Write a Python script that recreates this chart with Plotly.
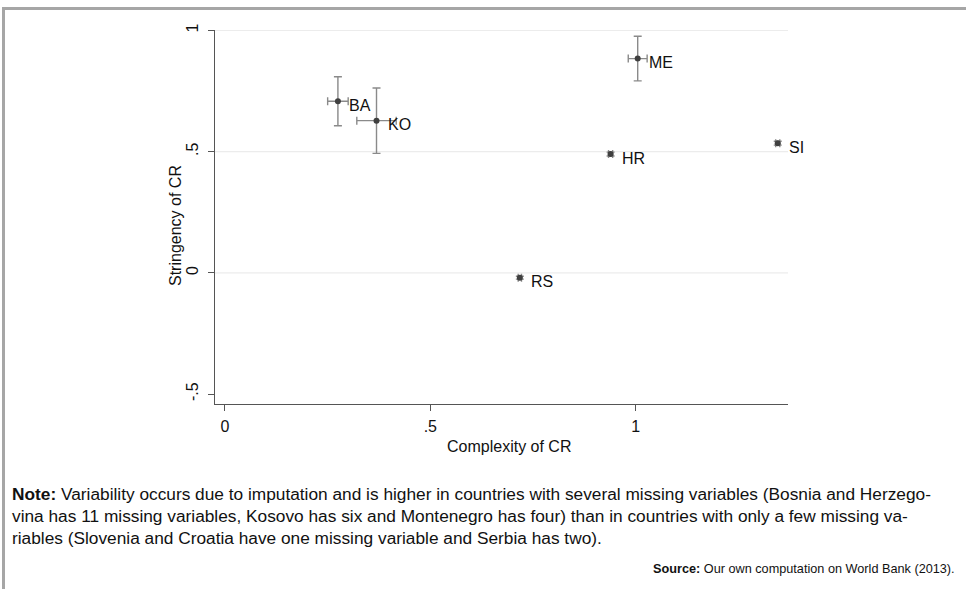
import plotly.graph_objects as go

# Data
countries = ["BA", "KO", "ME", "HR", "SI", "RS"]
complexity = [0.275, 0.369, 1.005, 0.939, 1.346, 0.718]
complexity_err = [0.025, 0.048, 0.023, 0.005, 0.005, 0.004]
stringency = [0.708, 0.628, 0.884, 0.490, 0.535, -0.020]
stringency_err = [0.101, 0.135, 0.092, 0.008, 0.008, 0.006]

x_tickvals = [0, 0.5, 1]
x_ticktext = ["0", ".5", "1"]
y_tickvals = [-0.5, 0, 0.5, 1]
y_ticktext = ["-.5", "0", ".5", "1"]
grid_vals = [0, 0.5, 1]

x_title = "Complexity of CR"
y_title = "Stringency of CR"
note_lines = [
    "<b>Note:</b> Variability occurs due to imputation and is higher in countries with several missing variables (Bosnia and Herzego-",
    "vina has 11 missing variables, Kosovo has six and Montenegro has four) than in countries with only a few missing va-",
    "riables (Slovenia and Croatia have one missing variable and Serbia has two).",
]
source_text = "<b>Source:</b> Our own computation on World Bank (2013)."

W, H = 966, 589
L, R, T, B = 215, 966 - 788, 30, 589 - 404
PW, PH = W - L - R, H - T - B

FONT = "Liberation Sans, Arial, sans-serif"


def py(ypix):
    return (H - B - ypix) / PH


def px(xpix):
    return (xpix - L) / PW


fig = go.Figure()
fig.add_trace(go.Scatter(
    x=complexity, y=stringency, mode="markers",
    marker=dict(color="#404040", size=6, symbol="circle"),
    error_x=dict(type="data", array=complexity_err, color="#8a8a8a", thickness=1.4, width=4),
    error_y=dict(type="data", array=stringency_err, color="#8a8a8a", thickness=1.4, width=4),
    showlegend=False, hoverinfo="skip",
))

for c, xv, yv in zip(countries, complexity, stringency):
    fig.add_annotation(x=xv, y=yv, text=c, showarrow=False, xanchor="left", yanchor="middle",
                       xshift=9, yshift=-4, font=dict(family=FONT, size=16, color="#111"))

shapes = []
for g in grid_vals:
    shapes.append(dict(type="line", xref="paper", yref="y", x0=0, x1=1, y0=g, y1=g,
                       line=dict(color="#ececec", width=1.2), layer="below"))
# outer frame (left and top)
shapes.append(dict(type="line", xref="paper", yref="paper",
                   x0=px(3.5), x1=px(3.5), y0=py(7), y1=py(595),
                   line=dict(color="#a6a6a6", width=3)))
shapes.append(dict(type="line", xref="paper", yref="paper",
                   x0=px(2), x1=px(970), y0=py(8.5), y1=py(8.5),
                   line=dict(color="#a6a6a6", width=3)))

fig.add_annotation(xref="paper", yref="paper", x=px(509), y=py(446), text=x_title,
                   showarrow=False, xanchor="center", yanchor="middle",
                   font=dict(family=FONT, size=16, color="#111"))
fig.add_annotation(xref="paper", yref="paper", x=px(175), y=py(226), text=y_title, textangle=-90,
                   showarrow=False, xanchor="center", yanchor="middle",
                   font=dict(family=FONT, size=16, color="#111"))

for i, line in enumerate(note_lines):
    fig.add_annotation(xref="paper", yref="paper", x=px(10), y=py(494 + 22 * i), text=line,
                       showarrow=False, xanchor="left", yanchor="middle", align="left",
                       font=dict(family=FONT, size=17.3, color="#111"))
fig.add_annotation(xref="paper", yref="paper", x=px(957), y=py(569), text=source_text,
                   showarrow=False, xanchor="right", yanchor="middle", align="right",
                   font=dict(family=FONT, size=12.7, color="#111"))

fig.update_layout(
    width=W, height=H, margin=dict(l=L, r=R, t=T, b=B, pad=0),
    paper_bgcolor="white", plot_bgcolor="white",
    font=dict(family=FONT, color="#111"),
    shapes=shapes,
    xaxis=dict(range=[-0.0243, 1.371], tickvals=x_tickvals, ticktext=x_ticktext,
               showgrid=False, zeroline=False, showline=True, linecolor="#555", linewidth=1.2,
               ticks="outside", ticklen=6, tickcolor="#555", tickfont=dict(size=16),
               ticklabelstandoff=2),
    yaxis=dict(range=[-0.541, 1.002], tickvals=y_tickvals, ticktext=y_ticktext, tickangle=-90,
               showgrid=False, zeroline=False, showline=True, linecolor="#555", linewidth=1.2,
               ticks="outside", ticklen=6, tickcolor="#555", tickfont=dict(size=16),
               ticklabelstandoff=4),
)

fig.write_html("out.html", config={"displayModeBar": False},
               post_script="document.body.style.margin='0px';")
